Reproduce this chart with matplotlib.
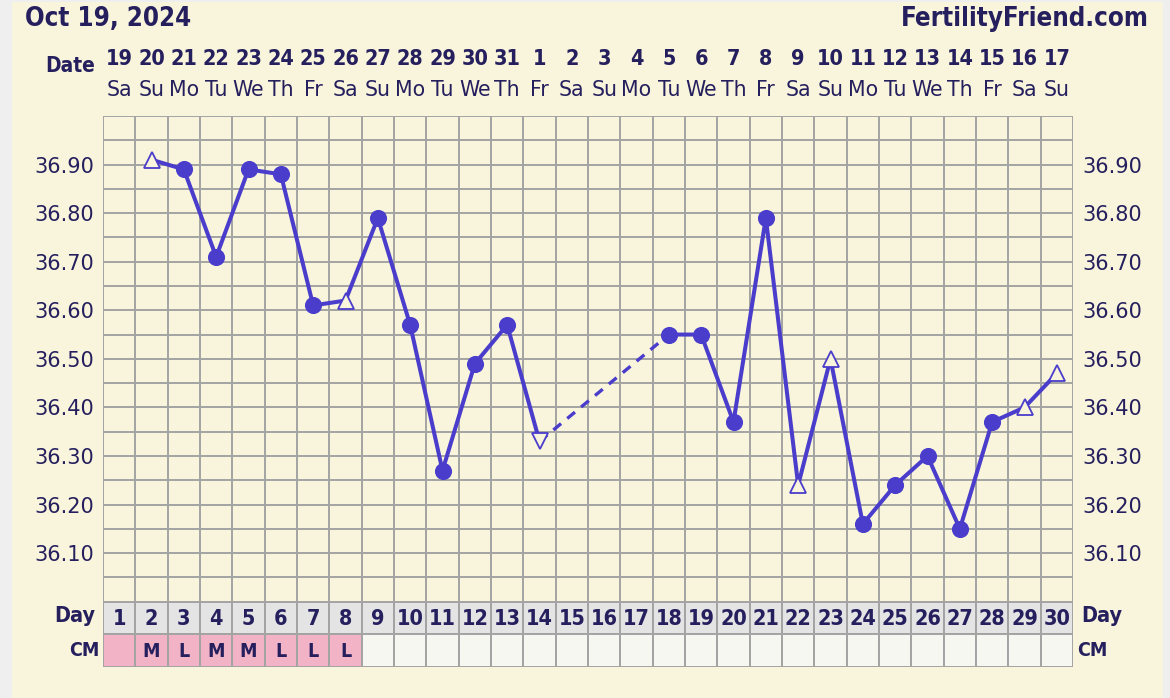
import matplotlib
matplotlib.use("Agg")
import matplotlib.pyplot as plt
from matplotlib.patches import Rectangle
import numpy as np

# ---------------- data ----------------
title = "Oct 19, 2024"
site = "FertilityFriend.com"
cycle_days = list(range(1, 31))
date_nums = ["19", "20", "21", "22", "23", "24", "25", "26", "27", "28", "29", "30", "31",
             "1", "2", "3", "4", "5", "6", "7", "8", "9", "10", "11", "12", "13", "14",
             "15", "16", "17"]
weekdays = ["Sa", "Su", "Mo", "Tu", "We", "Th", "Fr", "Sa", "Su", "Mo", "Tu", "We", "Th",
            "Fr", "Sa", "Su", "Mo", "Tu", "We", "Th", "Fr", "Sa", "Su", "Mo", "Tu", "We",
            "Th", "Fr", "Sa", "Su"]
temps = [None, 36.91, 36.89, 36.71, 36.89, 36.88, 36.61, 36.62, 36.79, 36.57,
         36.27, 36.49, 36.57, 36.33, None, None, None, 36.55, 36.55, 36.37,
         36.79, 36.24, 36.50, 36.16, 36.24, 36.30, 36.15, 36.37, 36.40, 36.47]
# '' = regular reading, 'up' / 'down' = open triangle flags
temp_flags = ['', 'up', '', '', '', '', '', 'up', '', '', '', '', '', 'down', '', '', '', '',
              '', '', '', 'up', 'up', '', '', '', '', '', 'up', 'up']
cm = ["", "M", "L", "M", "M", "L", "L", "L"] + [None] * 22  # None = no entry
ytick_vals = [36.10, 36.20, 36.30, 36.40, 36.50, 36.60, 36.70, 36.80, 36.90]

# ---------------- style ----------------
W, H = 1170, 698
CREAM = "#f9f5dc"
OUTER = "#efefef"
GRID = "#a3a3a3"
NAVY = "#251f5e"
LINE = "#4b3dcc"
DAYBG = "#e4e4e4"
PINK = "#f3b3c7"
EMPTY = "#f7f7f1"
FONT = "DejaVu Sans"

def fx(px):
    return px / W

def fy(py):
    return (H - py) / H

fig = plt.figure(figsize=(W / 100, H / 100), dpi=100)
fig.patch.set_facecolor(OUTER)
fig.add_artist(Rectangle((fx(12), 0), fx(1163) - fx(12), fy(2), transform=fig.transFigure,
                         facecolor=CREAM, edgecolor="none", zorder=0))

left, right, top, bot = 103, 1073, 116, 601.7
ax = fig.add_axes([fx(left), fy(bot), fx(right) - fx(left), fy(top) - fy(bot)])
ax.set_facecolor(CREAM)
ax.set_xlim(0.5, 30.5)
ax.set_ylim(36.0, 37.0)
for s in ax.spines.values():
    s.set_visible(False)

# grid
ax.vlines(np.arange(0.5, 31, 1.0), 36.0, 37.0, color=GRID, lw=1.4, zorder=1)
ax.hlines(np.arange(36.0, 37.001, 0.05), 0.5, 30.5, color=GRID, lw=1.4, zorder=1)

ax.set_xticks([])
ax.set_yticks(ytick_vals)
ax.set_yticklabels([f"{v:.2f}" for v in ytick_vals])
ax.tick_params(axis="y", length=0, pad=6.5, labelleft=True, labelright=True,
               labelsize=15, labelcolor=NAVY)

# temperature line segments
x = np.array(cycle_days, dtype=float)
y = np.array([np.nan if t is None else t for t in temps], dtype=float)
ax.plot(x, y, color=LINE, lw=2.9, zorder=3, solid_joinstyle="round", solid_capstyle="round")
# dashed bridge over missing days
valid = np.where(~np.isnan(y))[0]
for a, b in zip(valid[:-1], valid[1:]):
    if b - a > 1:
        ax.plot([x[a], x[b]], [y[a], y[b]], color=LINE, lw=2.4, dashes=(3.0, 2.4), zorder=3)

for xi, yi, fl in zip(x, y, temp_flags):
    if np.isnan(yi):
        continue
    if fl == "":
        ax.plot(xi, yi, marker="o", ms=11.3, color=LINE, mec=LINE, zorder=4)
    else:
        ax.plot(xi, yi, marker="^" if fl == "up" else "v", ms=11, mfc=CREAM,
                mec=LINE, mew=1.3, zorder=4)

# date header
for d, dn, wd in zip(cycle_days, date_nums, weekdays):
    xc = fx(left) + (d - 0.5) / 30 * (fx(right) - fx(left))
    fig.text(xc, fy(59), dn, ha="center", va="center", fontsize=15.5, fontweight="bold",
             fontstretch="condensed", color=NAVY, family=FONT)
    fig.text(xc, fy(90), wd, ha="center", va="center", fontsize=14.8, color=NAVY,
             family=FONT)
fig.text(fx(95), fy(66), "Date", ha="right", va="center", fontsize=15,
         fontweight="bold", fontstretch="condensed", color=NAVY, family=FONT)

# title
fig.text(fx(25), fy(19), title, ha="left", va="center", fontsize=18.5,
         fontweight="bold", fontstretch="condensed", color=NAVY, family=FONT)
fig.text(fx(1149), fy(19), site, ha="right", va="center", fontsize=18.5,
         fontweight="bold", fontstretch="condensed", color=NAVY, family=FONT)

# day / CM table
tb_top, tb_bot = 601.7, 666.7
tax = fig.add_axes([fx(left), fy(tb_bot), fx(right) - fx(left), fy(tb_top) - fy(tb_bot)])
tax.set_xlim(0.5, 30.5)
tax.set_ylim(0, 2)
tax.axis("off")
for d, c in zip(cycle_days, cm):
    tax.add_patch(Rectangle((d - 0.5, 1), 1, 1, facecolor=DAYBG, edgecolor=GRID, lw=1.4))
    tax.add_patch(Rectangle((d - 0.5, 0), 1, 1, facecolor=PINK if c is not None else EMPTY,
                            edgecolor=GRID, lw=1.4))
    tax.text(d, 1.47, str(d), ha="center", va="center", fontsize=15.5, fontweight="bold",
             fontstretch="condensed", color=NAVY, family=FONT)
    if c:
        tax.text(d, 0.47, c, ha="center", va="center", fontsize=14, fontweight="bold",
                 fontstretch="condensed", color=NAVY, family=FONT)

fig.text(fx(95), fy(616), "Day", ha="right", va="center", fontsize=15.5, fontweight="bold",
         fontstretch="condensed", color=NAVY, family=FONT)
fig.text(fx(100), fy(651), "CM", ha="right", va="center", fontsize=14, fontweight="bold",
         fontstretch="condensed", color=NAVY, family=FONT)
fig.text(fx(1081), fy(616), "Day", ha="left", va="center", fontsize=15.5, fontweight="bold",
         fontstretch="condensed", color=NAVY, family=FONT)
fig.text(fx(1077), fy(651), "CM", ha="left", va="center", fontsize=14, fontweight="bold",
         fontstretch="condensed", color=NAVY, family=FONT)

fig.savefig("out.png", dpi=100, facecolor=fig.get_facecolor())
